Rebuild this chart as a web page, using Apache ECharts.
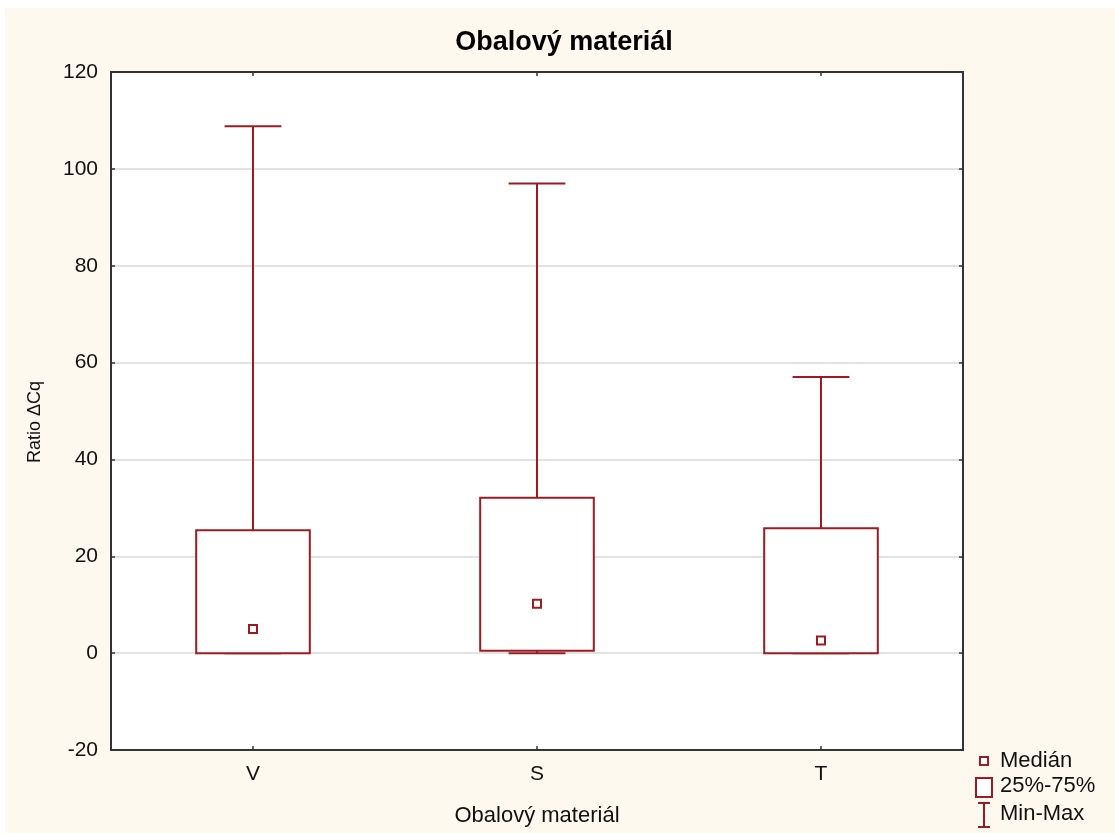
<!DOCTYPE html>
<html>
<head>
<meta charset="utf-8">
<script src="https://cdn.jsdelivr.net/npm/echarts@6/dist/echarts.min.js"></script>
<style>
html,body{margin:0;padding:0;background:#ffffff;}
#c{position:absolute;left:5px;top:8px;width:1110px;height:825px;}
</style>
</head>
<body>
<div id="c"></div>
<script>
const categories = ['V', 'S', 'T'];
const minVals = [0, 0, 0];
const q1Vals = [0, 0.5, 0];
const medianVals = [5, 10.2, 2.6];
const q3Vals = [25.4, 32.1, 25.8];
const maxVals = [108.8, 97, 57];
const yTicks = [-20, 0, 20, 40, 60, 80, 100, 120];

const RED = '#9a1c22';
const FONT = '"Liberation Sans", Arial, sans-serif';

const boxData = categories.map((c, i) => [i, minVals[i], q1Vals[i], medianVals[i], q3Vals[i], maxVals[i]]);

const chart = echarts.init(document.getElementById('c'), null, {renderer: 'canvas'});

function renderItem(params, api) {
  const idx = api.value(0);
  const band = api.size([1, 0])[0];
  const bw = band * 0.4;
  const cw = band * 0.2;
  const pMin = api.coord([idx, api.value(1)]);
  const pQ1 = api.coord([idx, api.value(2)]);
  const pMed = api.coord([idx, api.value(3)]);
  const pQ3 = api.coord([idx, api.value(4)]);
  const pMax = api.coord([idx, api.value(5)]);
  const x = pMed[0];
  const ls = {stroke: RED, lineWidth: 2, fill: null};
  return {
    type: 'group',
    children: [
      {type: 'line', shape: {x1: x, y1: pQ3[1], x2: x, y2: pMax[1]}, style: ls},
      {type: 'line', shape: {x1: x - cw / 2, y1: pMax[1], x2: x + cw / 2, y2: pMax[1]}, style: ls},
      {type: 'line', shape: {x1: x, y1: pQ1[1], x2: x, y2: pMin[1]}, style: ls},
      {type: 'line', shape: {x1: x - cw / 2, y1: pMin[1], x2: x + cw / 2, y2: pMin[1]}, style: ls},
      {type: 'rect', shape: {x: x - bw / 2, y: pQ3[1], width: bw, height: pQ1[1] - pQ3[1]},
        style: {stroke: RED, lineWidth: 2, fill: '#ffffff'}},
      {type: 'rect', shape: {x: x - 4, y: pMed[1] - 4, width: 8, height: 8},
        style: {stroke: RED, lineWidth: 2, fill: '#ffffff'}}
    ]
  };
}

// legend coordinates (chart div space)
const lx = 971, ly = 753;
const textStyle = {fill: '#111', font: '22px ' + FONT, verticalAlign: 'middle'};

chart.setOption({
  backgroundColor: '#fef9ee',
  animation: false,
  title: {
    text: 'Obalový materiál',
    left: 554, top: 16, textAlign: 'center',
    textStyle: {fontFamily: FONT, fontSize: 27, fontWeight: 'bold', color: '#000'}
  },
  grid: {
    left: 106, top: 64, width: 852, height: 678,
    show: true, backgroundColor: '#ffffff', borderColor: '#333', borderWidth: 2,
    containLabel: false
  },
  xAxis: [{
    type: 'category', data: categories, position: 'bottom',
    axisLine: {show: true, onZero: false, lineStyle: {color: '#333', width: 2}},
    axisTick: {show: true, inside: true, length: 4, alignWithLabel: true, lineStyle: {color: '#333', width: 1.5}},
    axisLabel: {fontFamily: FONT, fontSize: 21, color: '#111', margin: 14},
    splitLine: {show: false},
    name: 'Obalový materiál', nameLocation: 'middle', nameGap: 55,
    nameTextStyle: {fontFamily: FONT, fontSize: 22, color: '#111'}
  }, {
    type: 'category', data: categories, position: 'top',
    axisLine: {show: true, onZero: false, lineStyle: {color: '#333', width: 2}},
    axisTick: {show: true, inside: true, length: 4, alignWithLabel: true, lineStyle: {color: '#333', width: 1.5}},
    axisLabel: {show: false}, splitLine: {show: false}
  }],
  yAxis: [{
    type: 'value', min: -20, max: 120, interval: 20, position: 'left',
    axisLine: {show: true, onZero: false, lineStyle: {color: '#333', width: 2}},
    axisTick: {show: true, inside: true, length: 4, lineStyle: {color: '#333', width: 1.5}},
    axisLabel: {fontFamily: FONT, fontSize: 21, color: '#111', margin: 13,
      formatter: v => yTicks.includes(v) ? String(v) : ''},
    splitLine: {show: true, lineStyle: {color: '#d9d9d9', width: 1.5}}
  }, {
    type: 'value', min: -20, max: 120, interval: 20, position: 'right',
    axisLine: {show: true, onZero: false, lineStyle: {color: '#333', width: 2}},
    axisTick: {show: true, inside: true, length: 4, lineStyle: {color: '#333', width: 1.5}},
    axisLabel: {show: false}, splitLine: {show: false}
  }],
  series: [{
    type: 'custom',
    renderItem: renderItem,
    xAxisIndex: 0, yAxisIndex: 0,
    encode: {x: 0, y: [1, 2, 3, 4, 5]},
    data: boxData,
    z: 5
  }],
  graphic: [
    {type: 'text', x: 30, y: 414, rotation: Math.PI / 2,
      style: {text: 'Ratio ΔCq', fill: '#111', font: '18px ' + FONT, align: 'center', verticalAlign: 'middle'}},
    {type: 'rect', shape: {x: lx + 4, y: ly - 4, width: 8, height: 8},
      style: {stroke: RED, lineWidth: 2, fill: '#fff'}},
    {type: 'text', x: lx + 24, y: ly, style: Object.assign({text: 'Medián'}, textStyle)},
    {type: 'rect', shape: {x: lx, y: ly + 17, width: 16, height: 19},
      style: {stroke: RED, lineWidth: 2, fill: '#fff'}},
    {type: 'text', x: lx + 24, y: ly + 25, style: Object.assign({text: '25%-75%'}, textStyle)},
    {type: 'line', shape: {x1: lx + 8, y1: ly + 42, x2: lx + 8, y2: ly + 66},
      style: {stroke: RED, lineWidth: 2}},
    {type: 'line', shape: {x1: lx + 2, y1: ly + 42, x2: lx + 14, y2: ly + 42},
      style: {stroke: RED, lineWidth: 2}},
    {type: 'line', shape: {x1: lx + 2, y1: ly + 66, x2: lx + 14, y2: ly + 66},
      style: {stroke: RED, lineWidth: 2}},
    {type: 'text', x: lx + 24, y: ly + 53, style: Object.assign({text: 'Min-Max'}, textStyle)}
  ]
});
</script>
</body>
</html>
